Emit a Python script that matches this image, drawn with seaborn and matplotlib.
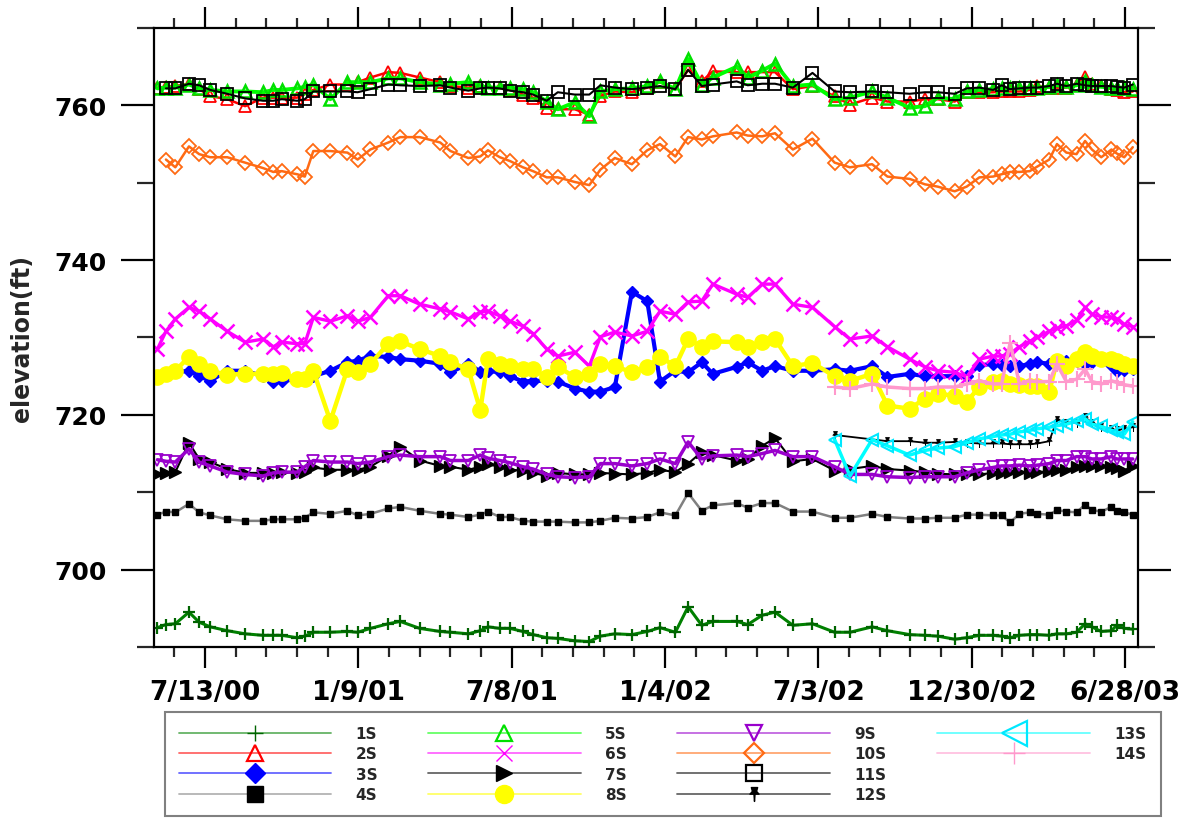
import numpy as np
import pandas as pd
import matplotlib
matplotlib.use("Agg")
import matplotlib.pyplot as plt
import matplotlib.dates as mdates
from matplotlib.colors import to_rgb
from matplotlib.lines import Line2D
from matplotlib.path import Path
from matplotlib.ticker import FixedLocator, FixedFormatter, MultipleLocator
import seaborn as sns

nan = np.nan

# Sampling dates
dates = [
    "2000-05-18", "2000-05-28", "2000-06-08", "2000-06-24", "2000-07-06", "2000-07-19", "2000-08-08", "2000-08-29", "2000-09-19", "2000-10-01",
    "2000-10-11", "2000-10-29", "2000-11-07", "2000-11-17", "2000-12-07", "2000-12-27", "2001-01-08", "2001-01-23", "2001-02-13", "2001-02-27",
    "2001-03-22", "2001-04-15", "2001-04-27", "2001-05-18", "2001-06-01", "2001-06-10", "2001-06-24", "2001-07-06", "2001-07-21", "2001-08-02",
    "2001-08-18", "2001-08-31", "2001-09-20", "2001-10-07", "2001-10-20", "2001-11-06", "2001-11-26", "2001-12-14", "2001-12-29", "2002-01-16",
    "2002-01-31", "2002-02-16", "2002-03-01", "2002-03-29", "2002-04-11", "2002-04-28", "2002-05-13", "2002-06-03", "2002-06-26", "2002-07-22",
    "2002-08-09", "2002-09-04", "2002-09-22", "2002-10-18", "2002-11-05", "2002-11-20", "2002-12-10", "2002-12-24", "2003-01-08", "2003-01-24",
    "2003-02-03", "2003-02-13", "2003-02-24", "2003-03-08", "2003-03-17", "2003-03-31", "2003-04-09", "2003-04-20", "2003-05-02", "2003-05-12",
    "2003-05-20", "2003-05-31", "2003-06-12", "2003-06-18", "2003-06-27", "2003-07-07",
]

# Water elevations (ft) per well
well_1S = [692.5, 692.9, 693.0, 694.5, 693.2, 692.6, 692.1, 691.7, 691.5, 691.5,
           691.5, 691.2, 691.4, 691.9, 691.9, 692.0, 691.9, 692.4, 693.0, 693.3,
           692.4, 692.0, 691.9, 691.7, 692.1, 692.6, 692.4, 692.4, 692.0, 691.6,
           691.2, 691.1, 690.8, 690.7, 691.4, 691.7, 691.6, 692.0, 692.5, 691.9,
           695.2, 692.8, 693.3, 693.3, 692.9, 694.1, 694.5, 692.8, 693.0, 691.9,
           691.9, 692.6, 692.1, 691.6, 691.5, 691.4, 691.0, 691.2, 691.5, 691.5,
           691.4, 691.2, 691.5, 691.6, 691.6, 691.5, 691.7, 691.7, 691.9, 693.0,
           692.6, 692.0, 692.1, 692.8, 692.4, 692.3]
well_2S = [762.3, 762.4, 762.5, 762.8, 762.1, 761.2, 760.8, 759.9, 761.0, 761.0,
           761.0, 761.0, 761.5, 762.0, 762.7, 762.7, 763.0, 763.6, 764.3, 764.2,
           763.6, 763.0, 762.5, 762.3, 762.5, 762.3, 762.2, 762.0, 761.4, 761.0,
           759.7, 759.5, 759.5, 758.8, 761.2, 761.8, 761.7, 762.3, 763.0, 762.1,
           764.6, 763.1, 764.4, 764.3, 764.3, 764.3, 764.3, 762.1, 762.5, 761.2,
           760.1, 761.0, 760.5, 760.5, 760.8, 760.8, 760.5, 761.7, 761.7, 761.7,
           761.8, 761.8, 761.8, 762.0, 762.5, 762.3, 762.3, 762.3, 762.6, 763.7,
           762.8, 762.5, 762.1, 762.0, 761.7, 761.8]
well_3S = [725.0, 725.3, 725.5, 725.7, 725.0, 724.4, 725.7, 725.7, 725.0, 724.3,
           724.4, 724.6, 724.8, 725.0, 725.7, 726.8, 727.0, 727.6, 727.5, 727.2,
           727.0, 726.6, 725.5, 726.6, 725.6, 725.7, 725.5, 725.0, 724.3, 724.4,
           724.4, 724.3, 723.4, 723.0, 723.0, 723.6, 735.9, 734.7, 724.3, 725.7,
           725.5, 726.8, 725.3, 726.2, 726.8, 725.7, 726.3, 725.7, 725.7, 725.9,
           725.7, 726.3, 724.9, 725.3, 725.0, 725.0, 725.0, 725.0, 726.4, 726.6,
           726.4, 726.3, 726.3, 726.6, 726.8, 726.6, 726.8, 726.9, 727.0, 726.6,
           726.8, 727.2, 726.5, 725.7, 725.8, 725.9]
well_4S = [707.1, 707.5, 707.4, 708.5, 707.4, 707.0, 706.5, 706.3, 706.3, 706.5,
           706.5, 706.5, 706.7, 707.4, 707.2, 707.6, 707.0, 707.2, 707.9, 708.1,
           707.6, 707.2, 707.1, 706.8, 707.1, 707.5, 706.8, 706.8, 706.3, 706.2,
           706.2, 706.2, 706.1, 706.1, 706.3, 706.7, 706.6, 706.8, 707.4, 707.0,
           709.9, 707.6, 708.3, 708.6, 708.0, 708.6, 708.6, 707.5, 707.5, 706.7,
           706.7, 707.2, 706.8, 706.6, 706.6, 706.7, 706.7, 707.1, 707.1, 707.0,
           707.0, 706.1, 707.2, 707.4, 707.2, 707.1, 707.7, 707.5, 707.4, 708.4,
           707.7, 707.5, 708.1, 707.6, 707.4, 707.1]
well_5S = [762.2, 762.3, 762.3, 762.7, 762.2, 762.0, 761.8, 761.8, 761.7, 762.0,
           762.0, 762.2, 762.4, 762.7, 760.8, 763.0, 763.0, 763.0, 763.5, 763.5,
           763.0, 762.7, 762.8, 763.0, 762.5, 762.3, 762.3, 762.3, 762.1, 761.7,
           760.5, 759.5, 760.4, 758.6, 761.8, 762.1, 762.2, 762.5, 763.1, 762.1,
           766.0, 762.7, 763.6, 765.0, 763.6, 764.5, 765.4, 762.5, 762.7, 760.8,
           761.0, 761.8, 761.0, 759.7, 759.9, 761.0, 760.8, 761.8, 762.0, 762.1,
           762.2, 762.2, 762.2, 762.3, 762.3, 762.4, 762.6, 762.4, 762.6, 763.1,
           762.6, 762.4, 762.3, 762.3, 762.2, 762.1]
well_6S = [728.5, 730.8, 732.4, 733.9, 733.4, 732.4, 730.8, 729.4, 729.8, 728.8,
           729.4, 729.2, 729.2, 732.6, 732.1, 732.8, 732.1, 732.6, 735.4, 735.4,
           734.3, 733.7, 733.3, 732.4, 733.3, 733.4, 732.8, 732.1, 731.5, 730.5,
           728.5, 727.6, 728.1, 726.3, 730.1, 730.7, 730.2, 730.8, 733.4, 733.0,
           734.6, 734.7, 736.9, 735.6, 735.2, 736.9, 736.9, 734.3, 733.9, 731.4,
           729.8, 730.2, 728.8, 727.2, 726.2, 725.7, 725.5, 724.9, 727.2, 727.6,
           727.6, 727.9, 728.8, 729.5, 730.0, 730.8, 731.2, 731.5, 732.2, 733.9,
           733.0, 732.7, 732.6, 732.4, 731.7, 731.4]
well_7S = [712.4, 712.5, 712.6, 716.4, 714.3, 713.9, 713.0, 712.5, 712.5, 712.5,
           712.6, 712.5, 712.6, 713.2, 712.9, 712.9, 712.9, 713.3, 714.7, 715.9,
           714.1, 713.4, 713.3, 712.9, 713.3, 713.6, 713.3, 712.9, 712.8, 712.5,
           712.1, 712.5, 712.3, 712.3, 712.5, 712.4, 712.3, 712.5, 712.9, 712.6,
           713.7, 715.2, 714.8, 714.1, 714.3, 716.0, 717.0, 714.0, 714.3, 712.8,
           713.0, 713.4, 713.0, 712.8, 712.6, 712.4, 712.3, 712.3, 712.3, 712.5,
           712.5, 712.6, 712.6, 712.5, 712.6, 712.7, 712.9, 712.9, 713.3, 713.4,
           713.4, 713.4, 713.3, 713.1, 712.8, 713.4]
well_8S = [724.9, 725.3, 725.7, 727.5, 726.6, 725.7, 725.2, 725.3, 725.3, 725.3,
           725.4, 724.6, 724.6, 725.7, 719.2, 725.9, 725.5, 726.6, 729.2, 729.5,
           728.5, 727.6, 726.8, 725.9, 720.6, 727.2, 726.6, 726.3, 725.9, 725.9,
           724.9, 726.2, 724.9, 725.3, 726.6, 726.3, 725.5, 726.2, 727.5, 726.3,
           729.8, 728.8, 729.5, 729.4, 728.8, 729.4, 729.8, 726.3, 726.7, 725.0,
           724.4, 725.3, 721.2, 720.8, 722.1, 722.7, 722.5, 721.7, 723.6, 724.2,
           724.4, 724.0, 723.8, 723.7, 723.7, 723.0, 727.0, 726.3, 727.2, 728.1,
           727.6, 727.2, 727.2, 726.9, 726.6, 726.3]
well_9S = [714.2, 714.0, 713.9, 715.6, 713.9, 713.4, 712.6, 712.3, 712.1, 712.5,
           712.6, 712.6, 713.3, 714.1, 713.9, 713.9, 713.7, 713.9, 714.6, 714.8,
           714.6, 714.6, 714.1, 714.1, 714.8, 714.4, 714.1, 713.8, 713.3, 713.0,
           712.3, 712.0, 711.9, 712.0, 713.7, 713.7, 713.4, 713.7, 714.3, 713.7,
           716.5, 714.3, 714.7, 714.8, 714.6, 715.0, 715.4, 714.6, 714.6, 713.3,
           712.3, 712.3, 712.0, 711.9, 712.0, 712.0, 712.0, 712.5, 712.9, 713.2,
           713.4, 713.4, 713.5, 713.4, 713.5, 713.7, 714.1, 714.1, 714.6, 714.6,
           714.3, 714.3, 714.6, 714.3, 714.3, 714.3]
well_10S = [nan, 753.0, 752.0, 754.7, 753.7, 753.3, 753.3, 752.6, 751.9, 751.4,
            751.5, 751.1, 750.8, 754.1, 754.1, 753.9, 753.0, 754.3, 755.2, 755.9,
            755.9, 755.2, 754.1, 753.2, 753.4, 754.2, 753.3, 752.8, 752.0, 751.5,
            750.7, 750.7, 750.1, 749.7, 751.7, 753.2, 752.4, 754.2, 755.0, 753.4,
            755.9, 755.6, 756.0, 756.5, 756.1, 756.0, 756.4, 754.3, 755.7, 752.6,
            752.0, 752.4, 750.8, 750.5, 749.8, 749.5, 748.9, 749.5, 750.7, 750.8,
            751.1, 751.4, 751.4, 751.5, 752.1, 753.0, 755.0, 753.9, 753.7, 755.4,
            754.3, 753.3, 754.3, 753.8, 753.3, 754.6]
well_11S = [nan, 762.2, 762.2, 762.8, 762.6, 762.0, 761.5, 760.9, 760.6, 760.6,
            760.8, 760.6, 760.8, 761.8, 761.8, 761.8, 761.7, 762.1, 762.7, 762.6,
            762.5, 762.6, 762.3, 761.9, 762.2, 762.3, 762.2, 761.9, 761.7, 761.4,
            760.6, 761.7, 761.4, 761.4, 762.6, 762.3, 762.1, 762.3, 762.5, 762.1,
            764.6, 762.5, 762.7, 763.1, 762.6, 762.8, 762.8, 762.3, 764.2, 761.8,
            761.7, 761.8, 761.7, 761.5, 761.7, 761.7, 761.5, 762.2, 762.3, 762.0,
            762.6, 762.1, 762.2, 762.3, 762.3, 762.5, 762.8, 762.5, 762.8, 762.6,
            762.5, 762.5, 762.5, 762.4, 762.3, 762.7]
well_12S = [nan] * 49 + [717.4, nan, nan, 716.6, 716.6, 716.4, 716.4, 716.5, 716.4, 716.3,
                         716.3, 716.3, 716.2, 716.2, 716.2, 716.3, 716.6, 719.4, 719.0, 719.0,
                         719.7, 719.0, 718.4, 718.2, 718.0, 718.2, 718.4]
well_13S = [nan] * 49 + [716.8, 712.1, 716.8, 716.0, 714.8, 715.4, 715.7, 715.9, 716.4, 716.9,
                         717.2, 717.4, 717.5, 717.8, 718.0, 718.2, 718.4, 718.6, 718.8, 719.2,
                         719.5, 718.8, 718.5, 718.0, 717.8, 717.5, 719.1]
well_14S = [nan] * 49 + [723.6, 723.4, 724.0, 723.6, 723.4, 723.4, 723.6, 723.6, 724.0, 724.4,
                         724.0, 724.0, 729.3, 724.0, 724.4, 724.3, 724.3, 726.6, 724.3, 724.6,
                         725.9, 724.3, 724.0, 724.4, 724.2, 723.9, 723.7]

wells = ["1S", "2S", "3S", "4S", "5S", "6S", "7S", "8S", "9S", "10S", "11S", "12S", "13S", "14S"]
series = [well_1S, well_2S, well_3S, well_4S, well_5S, well_6S, well_7S,
          well_8S, well_9S, well_10S, well_11S, well_12S, well_13S, well_14S]

tick_dates = ["2000-07-13", "2001-01-09", "2001-07-08", "2002-01-04",
              "2002-07-03", "2002-12-30", "2003-06-28"]
tick_labels = ["7/13/00", "1/9/01", "7/8/01", "1/4/02", "7/3/02", "12/30/02", "6/28/03"]

# Thumbtack glyph for well 12S
pin = Path([(-0.45, 1.0), (0.45, 1.0), (0.3, 0.45), (0.65, 0.05), (0.08, 0.05),
            (0.0, -1.0), (-0.08, 0.05), (-0.65, 0.05), (-0.3, 0.45), (-0.45, 1.0)],
           closed=True)

# line colour, marker, size, face, edge, edge width, line width, legend marker size
styles = {
    "1S":  ("#008000", "+", 9, "#006400", "#006400", 1.6, 2.2, 12),
    "2S":  ("#FF0000", "^", 8, "none", "#FF0000", 1.3, 1.8, 11),
    "3S":  ("#0000FF", "D", 6.5, "#0000FF", "#0000FF", 1.0, 3.0, 10),
    "4S":  ("#808080", "s", 5, "#000000", "#000000", 1.0, 1.8, 11),
    "5S":  ("#00FF00", "^", 8, "none", "#00E000", 1.8, 2.8, 11),
    "6S":  ("#FF00FF", "x", 10, "#FF00FF", "#FF00FF", 1.8, 2.4, 12),
    "7S":  ("#000000", ">", 8, "#000000", "#000000", 1.0, 1.5, 12),
    "8S":  ("#FFFF00", "o", 11, "#FFFF00", "#FFFF00", 1.0, 3.2, 13),
    "9S":  ("#9900CC", "v", 8, "none", "#9900CC", 1.3, 2.5, 11),
    "10S": ("#FF6A13", "D", 7.5, "none", "#FF6A13", 1.3, 1.8, 10),
    "11S": ("#000000", "s", 9, "none", "#000000", 1.3, 1.5, 12),
    "12S": ("#000000", pin, 6, "#000000", "#000000", 0.5, 1.3, 10),
    "13S": ("#00FFFF", "<", 9, "none", "#00E8FF", 1.5, 2.5, 18),
    "14S": ("#FF99CC", "+", 11, "#FF99CC", "#FF99CC", 1.5, 2.5, 16),
}


def lighten(c, amount=0.4):
    r, g, b = to_rgb(c)
    return (r + (1 - r) * amount, g + (1 - g) * amount, b + (1 - b) * amount)


sns.set_style("ticks")
plt.rcParams["font.family"] = ["DejaVu Sans"]
plt.rcParams["font.weight"] = "bold"

fig = plt.figure(figsize=(11.94, 8.2), dpi=100)
fig.patch.set_facecolor("white")
ax = fig.add_axes([0.129, 0.2098, 0.824, 0.7548])
ax.set_facecolor("white")

x_all = pd.to_datetime(pd.Series(dates))
handles = {}
for name, vals in zip(wells, series):
    col, mk, ms, mfc, mec, mew, lw, lms = styles[name]
    df = pd.DataFrame({"date": x_all, "elev": vals}).dropna()
    sns.lineplot(data=df, x="date", y="elev", ax=ax, estimator=None, sort=False,
                 color=col, linewidth=lw, marker=mk, markersize=ms,
                 markerfacecolor=mfc, markeredgecolor=mec, markeredgewidth=mew,
                 legend=False)
    handles[name] = Line2D([], [], color=lighten(col), lw=1.3, marker=mk,
                           markersize=lms, markerfacecolor=mfc, markeredgecolor=mec,
                           markeredgewidth=1.6 if mfc == "none" else 1.0)

ax.set_xlim(pd.Timestamp("2000-05-14"), pd.Timestamp("2003-07-13"))
ax.set_ylim(690, 770)

major = mdates.date2num(pd.to_datetime(tick_dates))
ax.xaxis.set_major_locator(FixedLocator(major))
ax.xaxis.set_major_formatter(FixedFormatter(tick_labels))
minor = np.arange(major[0] - 36, major[-1] + 36, 36)
ax.xaxis.set_minor_locator(FixedLocator(minor))
ax.yaxis.set_major_locator(MultipleLocator(20))
ax.yaxis.set_minor_locator(MultipleLocator(10))

for s in ax.spines.values():
    s.set_visible(True)
    s.set_linewidth(1.6)
    s.set_color("black")

ax.tick_params(axis="x", which="major", direction="out", length=15, width=1.6,
               top=True, bottom=True, labelsize=19, pad=8, colors="black")
ax.tick_params(axis="x", which="minor", direction="out", length=7.5, width=1.6,
               top=True, bottom=True)
ax.tick_params(axis="y", which="major", direction="out", length=24, width=1.6,
               left=True, right=True, labelsize=18, pad=10, colors="black")
ax.tick_params(axis="y", which="minor", direction="out", length=12, width=1.6,
               left=True, right=True)
for lab in ax.get_xticklabels() + ax.get_yticklabels():
    lab.set_fontweight("bold")

ax.set_xlabel("")
ax.set_ylabel("elevation(ft)", fontsize=17, fontweight="bold")
ax.yaxis.set_label_coords(-0.122, 0.5)

# Four legend columns of four rows; the last column holds two entries
blank = Line2D([], [], linestyle="none", marker=None)
order = wells[:12] + ["13S", "14S", "", ""]
leg_handles = [handles[n] if n else blank for n in order]

leg = fig.legend(leg_handles, order, ncol=4, loc="lower left",
                 bbox_to_anchor=(0.138, 0.004, 0.834, 0.13), mode="expand",
                 frameon=True, fancybox=False, edgecolor="#606060",
                 prop={"weight": "bold", "size": 11}, handlelength=10,
                 handletextpad=1.6, columnspacing=2.0, labelspacing=0.35,
                 borderpad=0.9, borderaxespad=0)
leg.get_frame().set_linewidth(1.5)

fig.savefig("out.png", dpi=100, facecolor="white")
